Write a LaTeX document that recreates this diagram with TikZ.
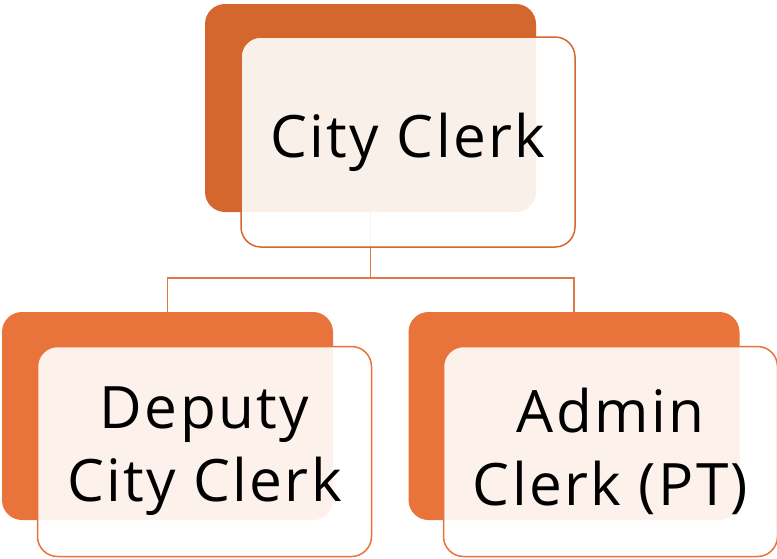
\documentclass[tikz,border=0pt]{standalone}
\usepackage{fontspec}
\setmainfont[LetterSpace=4]{Open Sans}
\usepackage{xcolor}
\usepackage{tikz}
\definecolor{topclr}{HTML}{D4672E}
\definecolor{subclr}{HTML}{E8743B}
\definecolor{linkclr}{HTML}{E07A44}
\tikzstyle{backbox} = [rectangle, rounded corners=20pt, minimum width=331pt, minimum height=208pt, inner sep=0pt]
\tikzstyle{frontbox} = [rectangle, rounded corners=20pt, minimum width=334pt, minimum height=210pt, inner sep=0pt, fill=white, fill opacity=0.9, text opacity=1, line width=1.5pt, align=center, text centered]
\tikzstyle{link} = [linkclr, line width=1.5pt]

\begin{document}
\begin{tikzpicture}[x=1pt,y=-1pt,font=\fontsize{58.5}{73}\selectfont]
	\useasboundingbox (0,0) rectangle (777,558);
	\node (clerkbg) [backbox, fill=topclr] at (370.5,108) {};
	\node (deputybg) [backbox, fill=subclr] at (167.5,416) {};
	\node (adminbg) [backbox, fill=subclr] at (574,416) {};

	\coordinate (fork) at (370.5,278);
	\draw [link] (clerkbg.south) -- (fork) -| (deputybg.north);
	\draw [link] (fork) -| (adminbg.north);

	\node (clerk) [frontbox, draw=topclr] at (408,142) {City Clerk};
	\node (deputy) [frontbox, draw=subclr] at (204.5,451.5) {Deputy\\City Clerk};
	\node (admin) [frontbox, draw=subclr] at (610.5,451.5) {Admin\\Clerk (PT)};
\end{tikzpicture}
\end{document}
